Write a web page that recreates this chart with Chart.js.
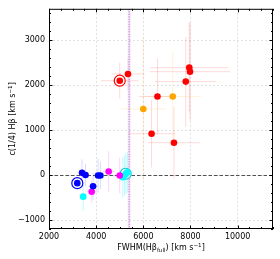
<!DOCTYPE html>
<html>
<head>
<meta charset="utf-8">
<script src="https://cdn.jsdelivr.net/npm/chart.js@4"></script>
<style>
  html, body { margin: 0; padding: 0; background: #fff; }
  canvas { display: block; }
</style>
</head>
<body>
<canvas id="chart" width="280" height="259"></canvas>
<script>
// Tick labels
const xTicks = [2000, 4000, 6000, 8000, 10000];
const yTicks = [-1000, 0, 1000, 2000, 3000];

// Red sample
const redX    = [5350, 6600, 6350, 7300, 7800, 7950, 7980];
const redY    = [2250, 1750, 920, 720, 2080, 2390, 2300];
const redXErr = [700, 800, 1000, 1100, 1300, 1650, 1700];
const redYErr = [350, 850, 750, 800, 1000, 1000, 1100];

// Orange sample
const orangeX    = [6000, 7250];
const orangeY    = [1470, 1750];
const orangeXErr = [950, 1200];
const orangeYErr = [1600, 1000];

// Blue sample
const blueX    = [3400, 3550, 4080, 4180, 3870];
const blueY    = [50, 0, -10, -10, -250];
const blueXErr = [150, 150, 200, 200, 200];
const blueYErr = [300, 250, 380, 300, 300];

// Magenta sample
const magentaX    = [3810, 4530, 5000];
const magentaY    = [-370, 80, -10];
const magentaXErr = [250, 250, 250];
const magentaYErr = [250, 450, 400];

// Cyan sample
const cyanX    = [3450, 5130, 5200, 5260, 5320];
const cyanY    = [-480, -50, -10, 30, 60];
const cyanXErr = [150, 200, 200, 200, 200];
const cyanYErr = [320, 450, 450, 450, 450];

// Ringed objects
const redRingX = [5000];
const redRingY = [2100];
const redRingXErr = [800];
const redRingYErr = [400];
const blueRingX = [3200];
const blueRingY = [-180];
const cyanRingX = [5250];
const cyanRingY = [30];

// Vertical limit and its band
const limitX = 5400;
const limitErr = 60;

const FONT = "'DejaVu Sans', sans-serif";

function pts(xs, ys) {
    return xs.map((v, i) => ({ x: v, y: ys[i] }));
}

function dots(xs, ys, color, xErr, yErr, errColor) {
    return {
        data: pts(xs, ys),
        backgroundColor: color,
        borderWidth: 0,
        pointRadius: 3.3,
        pointHoverRadius: 3.3,
        xErr: xErr,
        yErr: yErr,
        errColor: errColor,
        order: 1
    };
}

function ring(xs, ys, color, radius) {
    return {
        data: pts(xs, ys),
        backgroundColor: '#ffffff',
        borderColor: color,
        borderWidth: 1.2,
        pointRadius: radius,
        pointHoverRadius: radius,
        order: 2
    };
}

// Error bars, limit line, zero line, frame, ticks and titles
const decorations = {
    id: 'decorations',
    beforeDatasetsDraw(chart) {
        const { ctx, chartArea: a, scales: { x, y } } = chart;
        ctx.save();
        ctx.beginPath();
        ctx.rect(a.left, a.top, a.width, a.height);
        ctx.clip();

        // error bars
        chart.data.datasets.forEach(ds => {
            if (!ds.xErr) return;
            ctx.strokeStyle = ds.errColor;
            ctx.lineWidth = 1;
            ds.data.forEach((p, i) => {
                const px = x.getPixelForValue(p.x);
                const py = y.getPixelForValue(p.y);
                ctx.beginPath();
                ctx.moveTo(x.getPixelForValue(p.x - ds.xErr[i]), py);
                ctx.lineTo(x.getPixelForValue(p.x + ds.xErr[i]), py);
                ctx.moveTo(px, y.getPixelForValue(p.y - ds.yErr[i]));
                ctx.lineTo(px, y.getPixelForValue(p.y + ds.yErr[i]));
                ctx.stroke();
            });
        });

        // limit band + dotted line
        const bl = x.getPixelForValue(limitX - limitErr);
        const br = x.getPixelForValue(limitX + limitErr);
        ctx.fillStyle = 'rgba(200, 150, 215, 0.25)';
        ctx.fillRect(bl, a.top, br - bl, a.height);
        const lx = x.getPixelForValue(limitX);
        ctx.strokeStyle = '#b860c8';
        ctx.lineWidth = 1;
        ctx.setLineDash([1, 1.5]);
        ctx.beginPath();
        ctx.moveTo(lx, a.top);
        ctx.lineTo(lx, a.bottom);
        ctx.stroke();

        // zero line
        const zy = Math.round(y.getPixelForValue(0)) + 0.5;
        ctx.strokeStyle = '#505050';
        ctx.setLineDash([3.5, 2]);
        ctx.beginPath();
        ctx.moveTo(a.left, zy);
        ctx.lineTo(a.right, zy);
        ctx.stroke();
        ctx.restore();
    },
    afterDraw(chart) {
        const { ctx, chartArea: a, scales: { x, y } } = chart;
        ctx.save();
        ctx.strokeStyle = '#000';
        ctx.lineWidth = 1;
        ctx.strokeRect(a.left + 0.5, a.top + 0.5, a.width - 1, a.height - 1);

        // inward ticks on all four sides
        ctx.beginPath();
        for (let v = 2000; v <= 11500; v += 500) {
            const px = Math.round(x.getPixelForValue(v)) + 0.5;
            const len = v % 2000 === 0 ? 3.5 : 2;
            ctx.moveTo(px, a.bottom); ctx.lineTo(px, a.bottom - len);
            ctx.moveTo(px, a.top); ctx.lineTo(px, a.top + len);
        }
        for (let v = -1200; v <= 3700; v += 200) {
            const py = Math.round(y.getPixelForValue(v)) + 0.5;
            const len = v % 1000 === 0 ? 3.5 : 2;
            ctx.moveTo(a.left, py); ctx.lineTo(a.left + len, py);
            ctx.moveTo(a.right, py); ctx.lineTo(a.right - len, py);
        }
        ctx.stroke();

        // axis titles with sub/superscripts
        const drawParts = (parts, cx, cy) => {
            let total = 0;
            parts.forEach(p => {
                ctx.font = p.size + 'px ' + FONT;
                p.w = ctx.measureText(p.t).width;
                total += p.w;
            });
            let cur = cx - total / 2;
            parts.forEach(p => {
                ctx.font = p.size + 'px ' + FONT;
                ctx.fillText(p.t, cur, cy + p.dy);
                cur += p.w;
            });
        };
        ctx.fillStyle = '#000';
        ctx.textBaseline = 'alphabetic';
        ctx.textAlign = 'left';
        drawParts([
            { t: 'FWHM(H\u03b2', size: 8, dy: 0 },
            { t: 'full', size: 5.6, dy: 1.8 },
            { t: ') [km s', size: 8, dy: 0 },
            { t: '\u22121', size: 5.6, dy: -3.2 },
            { t: ']', size: 8, dy: 0 }
        ], (a.left + a.right) / 2, 250);

        ctx.translate(15, (a.top + a.bottom) / 2);
        ctx.rotate(-Math.PI / 2);
        drawParts([
            { t: 'c(1/4) H\u03b2 [km s', size: 8, dy: 0 },
            { t: '\u22121', size: 5.6, dy: -3.2 },
            { t: ']', size: 8, dy: 0 }
        ], 0, 0);
        ctx.restore();
    }
};

new Chart(document.getElementById('chart'), {
    type: 'scatter',
    data: {
        datasets: [
            ring(redRingX, redRingY, '#ff0000', 5.5),
            ring(blueRingX, blueRingY, '#0000ff', 5.5),
            ring(cyanRingX, cyanRingY, '#00c8d8', 5.5),
            dots(redX, redY, '#ff0000', redXErr, redYErr, 'rgba(255, 0, 0, 0.15)'),
            dots(redRingX, redRingY, '#ff0000', redRingXErr, redRingYErr, 'rgba(255, 0, 0, 0.15)'),
            dots(orangeX, orangeY, '#ffa500', orangeXErr, orangeYErr, 'rgba(255, 165, 0, 0.15)'),
            dots(blueX, blueY, '#0000ff', blueXErr, blueYErr, 'rgba(0, 0, 255, 0.15)'),
            dots(blueRingX, blueRingY, '#0000ff', null, null, null),
            dots(magentaX, magentaY, '#ff00ff', magentaXErr, magentaYErr, 'rgba(255, 0, 255, 0.18)'),
            dots(cyanX, cyanY, '#00ffff', cyanXErr, cyanYErr, 'rgba(0, 230, 255, 0.25)')
        ]
    },
    options: {
        responsive: false,
        animation: false,
        layout: { padding: { top: 5, right: 7, left: 0, bottom: 0 } },
        plugins: {
            legend: { display: false },
            tooltip: { enabled: false }
        },
        scales: {
            x: {
                type: 'linear',
                min: 2000,
                max: 11500,
                afterBuildTicks: scale => { scale.ticks = xTicks.map(v => ({ value: v })); },
                afterFit: scale => { scale.height = 30; },
                ticks: {
                    padding: 3,
                    maxRotation: 0,
                    color: '#000',
                    font: { family: FONT, size: 8 },
                    callback: v => String(v)
                },
                grid: { color: '#dadada', lineWidth: 0.8, drawTicks: false },
                border: { display: false, dash: [2, 2] }
            },
            y: {
                type: 'linear',
                min: -1200,
                max: 3700,
                afterBuildTicks: scale => { scale.ticks = yTicks.map(v => ({ value: v })); },
                afterFit: scale => { scale.width = 49; },
                ticks: {
                    padding: 4,
                    color: '#000',
                    font: { family: FONT, size: 8 },
                    callback: v => (v < 0 ? '\u2212' + Math.abs(v) : String(v))
                },
                grid: { color: '#dadada', lineWidth: 0.8, drawTicks: false },
                border: { display: false, dash: [2, 2] }
            }
        }
    },
    plugins: [decorations]
});
</script>
</body>
</html>
